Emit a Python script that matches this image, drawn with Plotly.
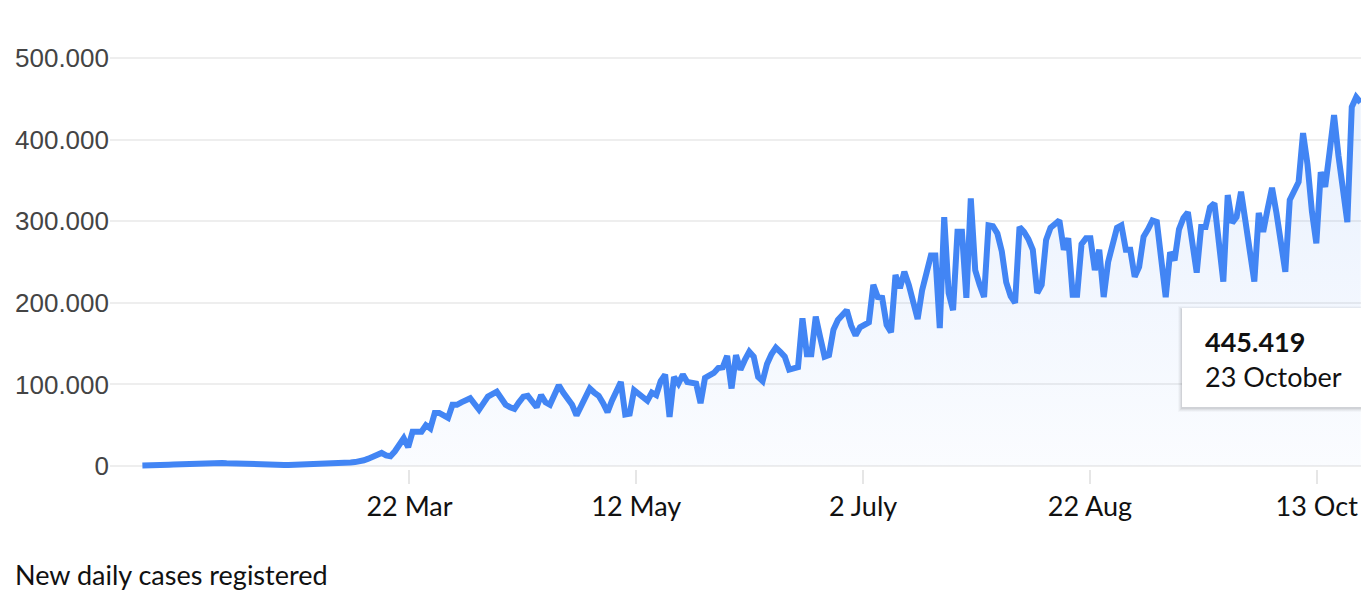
import pandas as pd
import plotly.graph_objects as go

# Daily new cases (thousands), 22 Jan -> 23 Oct 2020
start_date = "2020-01-22"
end_date = "2020-10-23"
cases_k = [
    0.6, 0.5, 0.9, 0.6, 0.8, 1.0, 1.6, 1.8, 2.0, 2.2,
    2.4, 2.8, 3.2, 3.6, 4.2, 4.8, 4.6, 4.2, 3.8, 3.4,
    3.1, 2.9, 2.7, 2.6, 2.5, 2.4, 2.3, 2.2, 2.1, 1.9,
    1.6, 1.4, 1.3, 1.2, 1.3, 1.4, 1.6, 1.8, 2.0, 2.2,
    2.4, 2.6, 2.8, 3.0, 3.3, 3.6, 4.0, 4.3, 4.8, 5.5,
    7.0, 9.0, 12.0, 15.0, 16.0, 13.0, 12.0, 18.0, 26.0, 34.0,
    23, 42, 42, 42, 50, 46, 65, 65, 62, 59,
    75, 75, 78, 81, 83, 76, 69, 77, 85, 88,
    91, 83, 75, 72, 70, 78, 85, 86, 79, 72,
    87, 78, 75, 86, 99, 90, 82, 75, 62, 73,
    85, 95, 90, 86, 77, 66, 80, 92, 103, 63,
    64, 93, 88, 83, 80, 90, 87, 104, 112, 60,
    109, 101, 112, 103, 102, 101, 77, 108, 111, 114,
    120, 121, 135, 95, 136, 118, 130, 140, 134, 109,
    104, 125, 137, 145, 140, 134, 118, 119, 121, 181,
    137, 137, 183, 158, 134, 136, 167, 179, 185, 191,
    172, 160, 170, 174, 176, 222, 207, 206, 173, 164,
    234, 218, 238, 222, 200, 180, 215, 234, 258, 258,
    169, 305, 212, 191, 287, 287, 206, 328, 240, 222,
    207, 295, 294, 285, 263, 225, 208, 200, 293, 287,
    278, 265, 212, 222, 277, 292, 297, 301, 265, 279,
    210, 210, 272, 279, 279, 240, 265, 207, 250, 275,
    292, 295, 265, 265, 232, 244, 281, 290, 301, 299,
    255, 207, 262, 252, 290, 304, 311, 275, 237, 293,
    293, 317, 322, 274, 226, 332, 298, 305, 336, 300,
    263, 226, 310, 287, 315, 341, 310, 275, 238, 326,
    338, 348, 408, 370, 312, 273, 360, 342, 385, 430,
    380, 340, 299, 440, 452, 445.419,
]
dates = pd.date_range(start_date, end_date, freq="D")
assert len(dates) == len(cases_k)

x_tick_vals = ["2020-03-22 07:00", "2020-05-12 11:48", "2020-07-02 16:36",
               "2020-08-22 21:24", "2020-10-13 02:12"]
x_tick_text = ["22 Mar", "12 May", "2 July", "22 Aug", "13 Oct"]
y_tick_vals = [0, 100, 200, 300, 400, 500]
y_tick_text = ["0", "100.000", "200.000", "300.000", "400.000", "500.000"]

tooltip_value = "445.419"
tooltip_date = "23 October"
caption = "New daily cases registered"

BLUE = "#4285F4"

fig = go.Figure()
fig.add_trace(go.Scatter(
    x=dates, y=cases_k, mode="lines",
    line=dict(color=BLUE, width=6, shape="linear"),
    fill="tozeroy",
    fillgradient=dict(type="vertical",
                      colorscale=[[0, "rgba(66,133,244,0.025)"],
                                  [1, "rgba(66,133,244,0.12)"]]),
    hoverinfo="skip", showlegend=False,
))

W, H = 1361, 590
L, R, T, B = 110, 0, 40, 121
pw, ph = W - L - R, H - T - B


def px_x(x):
    return (x - L) / pw


def px_y(y):
    return (H - B - y) / ph


shapes = []
# tooltip shadow layers
for g, a in [(4, 0.025), (3, 0.035), (2, 0.045), (1, 0.06)]:
    shapes.append(dict(type="rect", xref="paper", yref="paper", layer="above",
                       x0=px_x(1182 - g), x1=px_x(1380),
                       y0=px_y(407 + g + 1), y1=px_y(308 - g + 2),
                       line=dict(width=0), fillcolor=f"rgba(0,0,0,{a})"))
shapes.append(dict(type="rect", xref="paper", yref="paper", layer="above",
                   x0=px_x(1182), x1=px_x(1380), y0=px_y(407), y1=px_y(308),
                   line=dict(width=0), fillcolor="white"))

FONT = "Lato"
annotations = [
    dict(text=f"<b>{tooltip_value}</b>", xref="paper", yref="paper",
         x=px_x(1203), y=px_y(341), xanchor="left", yanchor="middle",
         showarrow=False, font=dict(family=FONT, size=27, color="#111")),
    dict(text=tooltip_date, xref="paper", yref="paper",
         x=px_x(1203), y=px_y(376), xanchor="left", yanchor="middle",
         showarrow=False, font=dict(family=FONT, size=27, color="#111")),
    dict(text=caption, xref="paper", yref="paper",
         x=px_x(13), y=px_y(574), xanchor="left", yanchor="middle",
         showarrow=False, font=dict(family=FONT, size=27, color="#111")),
]

fig.update_layout(
    width=W, height=H,
    margin=dict(l=L, r=R, t=T, b=B, pad=0),
    plot_bgcolor="white", paper_bgcolor="white",
    shapes=shapes, annotations=annotations,
    xaxis=dict(type="date", range=["2020-01-14 16:33", "2020-10-23 02:00"],
               tickvals=x_tick_vals, ticktext=x_tick_text,
               ticks="outside", ticklen=14, tickwidth=2, tickcolor="#e6e6e6",
               showgrid=False, zeroline=False, showline=False,
               tickfont=dict(family=FONT, size=27, color="#111")),
    yaxis=dict(range=[-3.676, 522.059], tickvals=y_tick_vals, ticktext=y_tick_text,
               showgrid=True, gridcolor="#eeeeee", gridwidth=2,
               zeroline=False, showline=False, ticks="",
               tickfont=dict(family="Liberation Sans", size=26, color="#444444")),
)

fig.write_html("out.html",
               config={"displayModeBar": False, "staticPlot": True},
               post_script="document.body.style.margin='0';document.body.style.overflow='hidden';")
